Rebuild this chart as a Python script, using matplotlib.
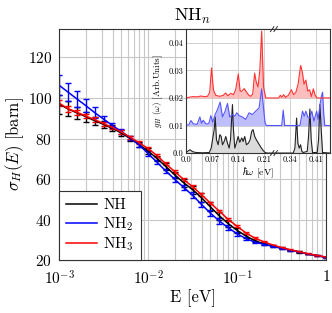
import numpy as np
import matplotlib
matplotlib.use("Agg")
from matplotlib import pyplot as plt
from matplotlib.ticker import FixedLocator, FuncFormatter, NullLocator

plt.rcParams["font.family"] = "serif"
plt.rcParams["font.serif"] = ["cmr10"]
plt.rcParams["mathtext.fontset"] = "cm"
plt.rcParams["axes.formatter.use_mathtext"] = True

# cross sections sigma_H(E) [barn] on a log energy grid
energy = [0.001, 0.00126, 0.00158, 0.002, 0.00251, 0.00316, 0.00398, 0.00501,
          0.00631, 0.00794, 0.01, 0.0126, 0.0158, 0.02, 0.0251, 0.0316, 0.0398,
          0.0501, 0.0631, 0.0794, 0.1, 0.126, 0.158, 0.2, 0.251, 0.316, 0.398,
          0.501, 0.631, 0.794, 1.0]
sigma_nh = [97.0, 94.6, 92.7, 90.8, 88.8, 87.0, 85.0, 82.7, 80.0, 77.0, 73.8,
            70.2, 66.2, 62.0, 58.2, 54.8, 50.8, 46.3, 41.9, 38.0, 34.7, 31.9,
            29.6, 28.0, 26.9, 25.9, 24.9, 24.0, 23.0, 22.2, 21.4]
err_nh = [4.7, 3.7, 3.1, 2.5, 2.0, 1.7, 1.5, 1.4, 1.3, 1.3, 1.3, 1.4, 1.5, 1.7,
          1.9, 2.0, 2.1, 2.2, 2.0, 1.6, 1.3, 1.0, 0.8, 0.6, 0.5, 0.4, 0.3, 0.3,
          0.2, 0.2, 0.2]
sigma_nh2 = [106.3, 102.9, 99.6, 96.2, 92.8, 89.6, 86.4, 83.5, 80.3, 76.8, 72.6,
             68.3, 64.0, 59.8, 55.9, 52.0, 47.5, 43.2, 39.3, 36.0, 33.0, 30.6,
             28.9, 27.8, 26.8, 25.8, 24.9, 24.0, 23.0, 22.2, 21.4]
err_nh2 = [5.0, 4.4, 3.9, 3.2, 2.6, 1.6, 1.4, 1.2, 1.1, 1.0, 1.0, 1.0, 1.1, 1.2,
           1.3, 1.4, 1.4, 1.4, 1.3, 1.1, 0.9, 0.7, 0.5, 0.4, 0.3, 0.3, 0.2, 0.2,
           0.2, 0.2, 0.2]
sigma_nh3 = [97.5, 94.7, 93.0, 91.1, 89.3, 87.4, 85.4, 83.2, 80.6, 77.9, 75.0,
             71.6, 67.5, 63.6, 59.8, 56.2, 52.3, 48.2, 44.2, 40.1, 36.7, 33.4,
             30.9, 29.0, 27.5, 26.2, 25.1, 24.1, 23.1, 22.3, 21.5]
err_nh3 = [1.5, 1.4, 1.3, 1.2, 1.1, 1.0, 0.9, 0.8, 0.8, 0.8, 0.8, 0.8, 0.8, 0.8,
           0.8, 0.8, 0.8, 0.7, 0.7, 0.6, 0.5, 0.4, 0.3, 0.3, 0.2, 0.2, 0.2, 0.2,
           0.2, 0.2, 0.2]
labels = ["NH", r"NH$_2$", r"NH$_3$"]

# phonon spectra g_H(omega), inset
red_x = [0.0, 0.01, 0.02, 0.03, 0.04, 0.05, 0.058, 0.064, 0.069, 0.074,
         0.08, 0.09, 0.1, 0.107, 0.113, 0.121, 0.128, 0.134, 0.141, 0.146,
         0.150, 0.157, 0.163, 0.169, 0.175, 0.180, 0.185, 0.189, 0.194, 0.199,
         0.204, 0.209, 0.215, 0.236,
         0.298, 0.31, 0.314, 0.318, 0.323, 0.328, 0.336, 0.344, 0.35, 0.356,
         0.362, 0.369, 0.374, 0.378, 0.383, 0.388, 0.393, 0.398, 0.403, 0.408,
         0.413, 0.448]
red_y = [0.0, 0.0003, 0.0005, 0.0004, 0.0007, 0.0005, 0.0006, 0.002, 0.0109, 0.003,
         0.001, 0.0006, 0.0009, 0.0018, 0.0008, 0.0017, 0.0012, 0.003, 0.0087, 0.0025,
         0.0024, 0.0034, 0.0022, 0.001, 0.0006, 0.0015, 0.009, 0.006, 0.004, 0.010,
         0.0243, 0.004, 0.0, 0.0,
         0.0, 0.0, 0.001, 0.0003, 0.0012, 0.0002, 0.001, 0.003, 0.0012, 0.002,
         0.005, 0.0118, 0.009, 0.005, 0.0065, 0.0025, 0.003, 0.0005, 0.0033, 0.001,
         0.0, 0.0]
blue_x = [0.0, 0.008, 0.0134, 0.02, 0.03, 0.0376, 0.042, 0.0465, 0.055, 0.062,
          0.0671, 0.072, 0.0788, 0.085, 0.0922, 0.0985, 0.1056, 0.1119, 0.118, 0.1253,
          0.1316, 0.137, 0.143, 0.152, 0.161, 0.170, 0.179, 0.188, 0.197, 0.204,
          0.2085, 0.213, 0.2166, 0.236,
          0.298, 0.318, 0.322, 0.326,
          0.367, 0.374, 0.3786, 0.383, 0.388, 0.394, 0.399, 0.4046,
          0.412, 0.416, 0.421, 0.425, 0.428, 0.4315, 0.434, 0.448]
blue_y = [0.0, 0.0003, 0.0018, 0.0006, 0.0004, 0.0031, 0.0008, 0.0019, 0.0005, 0.0008,
          0.0036, 0.0012, 0.0040, 0.0058, 0.0085, 0.0031, 0.0052, 0.0080, 0.0031, 0.0040,
          0.0034, 0.0046, 0.0036, 0.0031, 0.0022, 0.0046, 0.0040, 0.0052, 0.0064, 0.0133,
          0.0070, 0.001, 0.0, 0.0,
          0.0, 0.0, 0.0056, 0.0,
          0.0, 0.0052, 0.0034, 0.0052, 0.0031, 0.0028, 0.0052, 0.0016,
          0.0052, 0.0022, 0.0076, 0.0107, 0.0121, 0.0034, 0.0, 0.0]
black_x = [0.0, 0.0045, 0.0107, 0.018, 0.027, 0.045, 0.063, 0.068, 0.0716, 0.0761,
           0.0788, 0.0823, 0.0868, 0.0913, 0.0949, 0.0985, 0.103, 0.1074, 0.1119, 0.1164,
           0.120, 0.1235, 0.1253, 0.128, 0.1316, 0.136, 0.1405, 0.145, 0.1504, 0.154,
           0.1584, 0.1629, 0.1683, 0.1727, 0.1772, 0.1808, 0.1853, 0.1897, 0.1951, 0.2014,
           0.2076, 0.213, 0.2193, 0.236,
           0.298, 0.349, 0.3535, 0.358, 0.3615, 0.365, 0.3687, 0.3723, 0.3759, 0.3866,
           0.3902, 0.3938, 0.3974, 0.401, 0.4136, 0.4171, 0.4207, 0.4243, 0.4279, 0.448]
black_y = [0.0002, 0.0006, 0.0012, 0.0005, 0.0002, 0.0001, 0.0002, 0.0018, 0.0048, 0.0085,
           0.0131, 0.0048, 0.003, 0.0067, 0.006, 0.003, 0.0042, 0.006, 0.0036, 0.0018,
           0.0048, 0.0133, 0.0176, 0.0085, 0.0018, 0.0036, 0.006, 0.0039, 0.0055, 0.0042,
           0.006, 0.003, 0.0036, 0.0048, 0.0079, 0.0085, 0.006, 0.0048, 0.0036, 0.0022,
           0.001, 0.0002, 0.0, 0.0,
           0.0, 0.0, 0.0018, 0.0127, 0.0036, 0.0018, 0.003, 0.0006, 0.0002, 0.0006,
           0.006, 0.016, 0.0048, 0.0002, 0.0002, 0.0048, 0.0176, 0.0085, 0.0002, 0.0]
offsets = [0.0, 0.01, 0.02]
inset_xticks = [0.0, 0.07, 0.14, 0.21, 0.34, 0.41]
inset_yticks = [0.0, 0.01, 0.02, 0.03, 0.04]

fig = plt.figure(figsize=(3.32, 3.13), dpi=100)
ax = fig.add_axes([0.178, 0.169, 0.804, 0.738])

colors = ["black", "blue", "red"]
for sig, err, col, lab in zip([sigma_nh, sigma_nh2, sigma_nh3],
                              [err_nh, err_nh2, err_nh3], colors, labels):
    ax.errorbar(energy, sig, yerr=err, color=col, lw=1.1, elinewidth=1.0,
                capsize=2.2, capthick=1.0)
    ax.plot([], [], color=col, lw=1.1, label=lab)

ax.set_xscale("log")
ax.set_xlim(1e-3, 1)
ax.set_ylim(20, 134)
ax.set_yticks([20, 40, 60, 80, 100, 120])
ax.xaxis.set_major_formatter(FuncFormatter(
    lambda v, p: "1" if np.isclose(v, 1) else r"$10^{%d}$" % round(np.log10(v))))
ax.grid(True, which="both", color="#c8c8c8", lw=0.8)
ax.tick_params(which="both", direction="in", labelsize=11, length=0)
ax.tick_params(axis="x", pad=7)
ax.tick_params(axis="y", pad=5)
for s in ax.spines.values():
    s.set_color("#333333")
ax.set_xlabel("E [eV]", fontsize=12, labelpad=1)
ax.set_ylabel(r"$\sigma_H(E)$ [barn]", fontsize=12, labelpad=1)
ax.set_title(r"NH$_n$", fontsize=13, pad=6)
leg = ax.legend(loc="lower left", fontsize=11, fancybox=False, framealpha=1,
                edgecolor="#333333", handlelength=2.0, borderaxespad=0,
                labelspacing=0.2, handletextpad=0.45, borderpad=0.45)
leg.get_frame().set_linewidth(0.8)

# inset with broken energy axis
gap_lo, gap_hi = 0.237, 0.297


def fwd(x):
    x = np.asarray(x, dtype=float)
    return np.where(x < gap_lo, x, np.where(x < gap_hi, gap_lo, x - (gap_hi - gap_lo)))


def inv(t):
    t = np.asarray(t, dtype=float)
    return np.where(t < gap_lo, t, t + (gap_hi - gap_lo))


ins = fig.add_axes([0.560, 0.511, 0.434, 0.396])
ins.set_xscale("function", functions=(fwd, inv))
for xs, ys, off, col, fc in zip([black_x, blue_x, red_x], [black_y, blue_y, red_y],
                                offsets, ["#222222", "#5555ff", "#ff3333"],
                                ["#cfcfcf", "#a8a8ff", "#ffa8a8"]):
    ys = np.array(ys) + off
    ins.fill_between(xs, off, ys, color=fc, alpha=0.75, lw=0)
    ins.plot(xs, ys, color=col, lw=0.8)
ins.set_xlim(0.0, 0.448)
ins.set_ylim(0.0, 0.045)
ins.xaxis.set_major_locator(FixedLocator(inset_xticks))
ins.xaxis.set_minor_locator(NullLocator())
ins.set_xticklabels(["0.0", "0.07", "0.14", "0.21", "0.34", "0.41"])
ins.set_yticks(inset_yticks)
ins.set_yticklabels(["0.0", "0.01", "0.02", "0.03", "0.04"])
ins.tick_params(direction="in", labelsize=6, length=0, pad=2)
ins.grid(True, color="#d0d0d0", lw=0.7)
ins.set_axisbelow(True)
for s in ins.spines.values():
    s.set_color("#333333")
ins.set_xlabel(r"$\hbar\omega$ [eV]", fontsize=7, labelpad=1)
ins.set_ylabel(r"$g_H$ ($\omega$) [Arb.Units]", fontsize=6.5, labelpad=2)

xb = fwd(gap_lo + 0.03) / fwd(0.448)
for yb in (0.0, 1.0):
    for dx in (-0.012, 0.012):
        ins.plot([xb + dx - 0.012, xb + dx + 0.012], [yb - 0.02, yb + 0.02],
                 transform=ins.transAxes, color="#333333", lw=0.7, clip_on=False)

fig.savefig("out.png", dpi=100)
